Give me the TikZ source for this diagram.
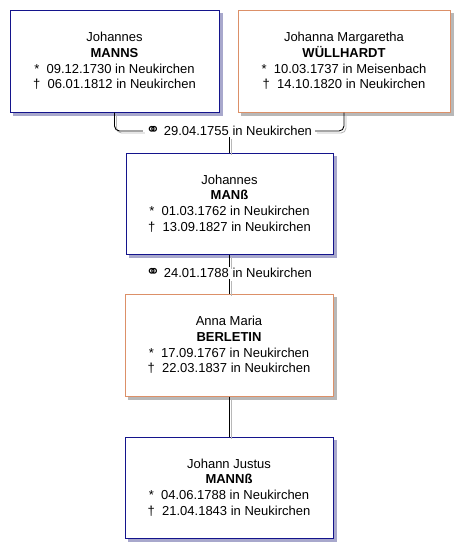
\documentclass[tikz,border=0pt]{standalone}
\usepackage{fontspec}
\setmainfont{Liberation Sans}
\newfontfamily\symfont{DejaVu Sans}
\usetikzlibrary{backgrounds}
\definecolor{mannblau}{HTML}{14148C}
\definecolor{fraurot}{HTML}{DC9068}
\definecolor{schattenblau}{HTML}{A8A8CC}
\definecolor{schattengrau}{HTML}{B8B8B8}
\newcommand{\geb}{*~~}
\newcommand{\gest}{†~~}
\newcommand{\heirat}{{\symfont\fontsize{17}{15}\selectfont ⚭}~}
\tikzset{
  person/.style={draw, line width=1pt, fill=white, inner sep=0pt, align=center,
    font=\fontsize{13}{15.6}\selectfont},
  mann/.style={person, draw=mannblau},
  frau/.style={person, draw=fraurot},
  ehe/.style={inner xsep=3pt, inner ysep=1.5pt, font=\fontsize{13}{15}\selectfont},
  kante/.style={draw=black, line width=0.9pt,
    preaction={draw=schattengrau, line width=0.9pt, transform canvas={shift={(2pt,-2pt)}}}}
}
\newcommand{\schatten}[2]{\fill[#2] ([shift={(3pt,-3pt)}]#1.south west) rectangle ([shift={(3pt,-3pt)}]#1.north east);}
\begin{document}
\begin{tikzpicture}[x=1pt, y=-1pt]
    \useasboundingbox (0,0) rectangle (469,558);

    %personen
    \node[mann, minimum width=209pt, minimum height=102pt] (manns) at (114.5,61)
      {Johannes\\ \textbf{MANNS}\\ \geb 09.12.1730 in Neukirchen\\ \gest 06.01.1812 in Neukirchen};
    \node[frau, minimum width=212pt, minimum height=102pt] (wuellhardt) at (344,61)
      {Johanna Margaretha\\ \textbf{WÜLLHARDT}\\ \geb 10.03.1737 in Meisenbach\\ \gest 14.10.1820 in Neukirchen};
    \node[mann, minimum width=207pt, minimum height=101pt] (mans) at (229.5,203.5)
      {Johannes\\ \textbf{MANß}\\ \geb 01.03.1762 in Neukirchen\\ \gest 13.09.1827 in Neukirchen};
    \node[frau, minimum width=208pt, minimum height=102pt] (berletin) at (229,345)
      {Anna Maria\\ \textbf{BERLETIN}\\ \geb 17.09.1767 in Neukirchen\\ \gest 22.03.1837 in Neukirchen};
    \node[mann, minimum width=208pt, minimum height=101pt] (justus) at (229,487.5)
      {Johann Justus\\ \textbf{MANNß}\\ \geb 04.06.1788 in Neukirchen\\ \gest 21.04.1843 in Neukirchen};

    %schatten
    \begin{scope}[on background layer]
      \schatten{manns}{schattenblau}
      \schatten{wuellhardt}{schattengrau}
      \schatten{mans}{schattenblau}
      \schatten{berletin}{schattengrau}
      \schatten{justus}{schattenblau}
    \end{scope}

    %heiraten
    \node[ehe] (ehe1) at (229,131) {\heirat 29.04.1755 in Neukirchen};
    \node[ehe] (ehe2) at (229,273) {\heirat 24.01.1788 in Neukirchen};

    %verbindungen
    \draw[kante, rounded corners=5pt] (manns.south) |- (ehe1.west);
    \draw[kante, rounded corners=5pt] (ehe1.east) -| (wuellhardt.south);
    \draw[kante] (mans.north |- ehe1.south) -- (mans.north);
    \draw[kante] (mans.south) -- (mans.south |- ehe2.north);
    \draw[kante] (berletin.north |- ehe2.south) -- (berletin.north);
    \draw[kante] (berletin.south) -- (justus.north);
\end{tikzpicture}
\end{document}
